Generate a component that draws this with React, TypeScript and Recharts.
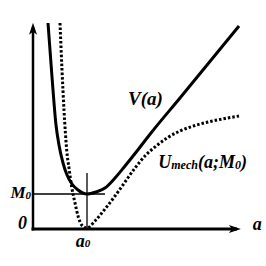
import React from "react";
import { LineChart, Line, XAxis, YAxis, ReferenceLine, ReferenceDot } from "recharts";

// V(a) curve (a in units of a0, value in units of M0)
const vA = [0.278, 0.352, 0.426, 0.481, 0.556, 0.63, 0.722, 0.833, 1.0, 1.167, 1.333, 1.519, 1.704, 1.926, 2.185, 2.722, 3.815];
const vVal = [5.886, 4.343, 2.971, 2.4, 1.886, 1.543, 1.286, 1.114, 1.0, 1.057, 1.171, 1.457, 1.8, 2.229, 2.743, 3.743, 5.8];

// U_mech(a; M0) curve
const uA = [0.5, 0.537, 0.574, 0.624, 0.672, 0.717, 0.778, 0.839, 0.902, 1.0, 1.148, 1.333, 1.519, 1.704, 1.889, 2.074, 2.259, 2.481, 2.722, 3.0, 3.278, 3.556, 3.815];
const uVal = [5.886, 4.543, 3.4, 2.257, 1.686, 1.2, 0.743, 0.343, 0.114, 0.029, 0.229, 0.571, 0.943, 1.343, 1.743, 2.086, 2.343, 2.6, 2.8, 2.957, 3.071, 3.157, 3.229];

const yTicks = [0, 1];
const xTicks = [1];

const vData = vA.map((a, i) => ({ a, v: vVal[i] }));
const uData = uA.map((a, i) => ({ a, u: uVal[i] }));

const font = { fontFamily: "'Liberation Serif', 'Times New Roman', serif", fontWeight: "bold", fontStyle: "italic" } as const;

const YTick = (props: any) => {
  const { y, payload } = props;
  if (payload.value === 0) {
    return (
      <text x={27} y={y} textAnchor="end" fontSize={18} {...font} fill="#000">0</text>
    );
  }
  return (
    <text x={31} y={y + 4} textAnchor="end" fontSize={17} {...font} fill="#000">
      M<tspan fontSize={11} dy={1}>0</tspan>
    </text>
  );
};

const XTick = (props: any) => {
  const { x } = props;
  return (
    <text x={x - 4} y={247} textAnchor="middle" fontSize={18} {...font} fill="#000">
      a<tspan fontSize={11}>0</tspan>
    </text>
  );
};

const xArrow = (p: any) => {
  const { x1, y1, x2 } = p;
  return (
    <g>
      <line x1={x1 - 1.5} y1={y1} x2={x2 - 4} y2={y1} stroke="#000" strokeWidth={3} />
      <polygon points={`${x2},${y1} ${x2 - 12},${y1 - 4} ${x2 - 9},${y1} ${x2 - 12},${y1 + 4}`} fill="#000" />
    </g>
  );
};

const yArrow = (p: any) => {
  const { x1, y1, y2 } = p;
  const top = Math.min(y1, y2);
  const bottom = Math.max(y1, y2);
  return (
    <g>
      <line x1={x1} y1={bottom + 1.5} x2={x1} y2={top + 4} stroke="#000" strokeWidth={2.5} />
      <polygon points={`${x1},${top} ${x1 - 4},${top + 12} ${x1},${top + 9} ${x1 + 4},${top + 12}`} fill="#000" />
    </g>
  );
};

const vLabel = (p: any) => (
  <text x={p.cx} y={p.cy} fontSize={19} {...font} fill="#000">V(a)</text>
);

const uLabel = (p: any) => (
  <text x={p.cx} y={p.cy} fontSize={18} {...font} fill="#000">
    U<tspan fontSize={12} dy={1}>mech</tspan>
    <tspan fontSize={18} dy={-1}>(a;M</tspan>
    <tspan fontSize={12} dy={1}>0</tspan>
    <tspan fontSize={18} dy={-1}>)</tspan>
  </text>
);

const aLabel = (p: any) => (
  <text x={p.cx} y={p.cy} fontSize={18} {...font} fill="#000">a</text>
);

export default function App() {
  return (
    <div style={{ position: "fixed", left: 0, top: 0, width: 266, height: 266, background: "#fff" }}>
      <LineChart width={266} height={266} data={vData} margin={{ top: 19, right: 17, bottom: 0, left: 0 }}>
        <XAxis
          dataKey="a"
          type="number"
          domain={[0, 4]}
          ticks={xTicks}
          interval={0}
          axisLine={false}
          tickLine={false}
          height={37}
          tick={<XTick />}
        />
        <YAxis
          type="number"
          domain={[0, 6]}
          ticks={yTicks}
          interval={0}
          axisLine={false}
          tickLine={false}
          width={33}
          tick={<YTick />}
        />
        <ReferenceLine segment={[{ x: 0, y: 0 }, { x: 3.85, y: 0 }]} shape={xArrow} />
        <ReferenceLine segment={[{ x: 0, y: 0 }, { x: 0, y: 5.89 }]} shape={yArrow} />
        <ReferenceLine segment={[{ x: 0, y: 1 }, { x: 1.333, y: 1 }]} stroke="#000" strokeWidth={1.3} />
        <ReferenceLine segment={[{ x: 1, y: 0 }, { x: 1, y: 1.6 }]} stroke="#000" strokeWidth={1.3} />
        <Line data={uData} dataKey="u" type="monotone" stroke="#000" strokeWidth={3} strokeDasharray="2.5 2" dot={false} isAnimationActive={false} />
        <Line data={vData} dataKey="v" type="monotone" stroke="#000" strokeWidth={3} dot={false} isAnimationActive={false} />
        <ReferenceDot x={1.76} y={3.54} r={0} shape={vLabel} ifOverflow="visible" />
        <ReferenceDot x={2.32} y={1.74} r={0} shape={uLabel} ifOverflow="visible" />
        <ReferenceDot x={4.07} y={-0.03} r={0} shape={aLabel} ifOverflow="visible" />
      </LineChart>
    </div>
  );
}
